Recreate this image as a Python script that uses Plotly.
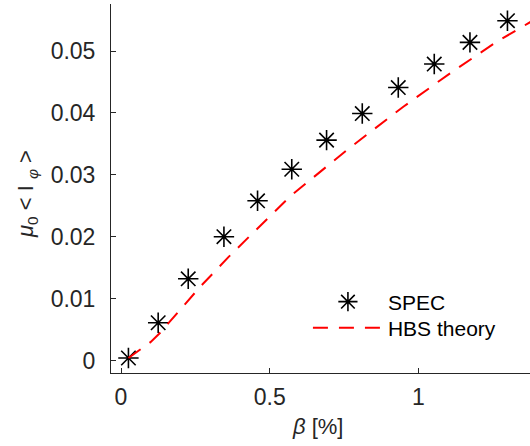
import plotly.graph_objects as go

# SPEC data points (beta [%], mu0 <I_phi>)
spec_beta = [0.025, 0.125, 0.226, 0.346, 0.459, 0.574, 0.691, 0.811, 0.932, 1.053, 1.173, 1.299]
spec_mu = [0.0004, 0.0061, 0.0132, 0.0200, 0.0258, 0.0309, 0.0356, 0.0399, 0.0441, 0.0479, 0.0514, 0.0549]

# HBS theory curve
hbs_beta = [0.025, 0.10, 0.13, 0.266, 0.361, 0.428, 0.568, 0.759, 0.949, 1.106, 1.263, 1.38]
hbs_mu = [0.0004, 0.0030, 0.0044, 0.0119, 0.0167, 0.0199, 0.0265, 0.0340, 0.0410, 0.0464, 0.0515, 0.0548]

x_ticks = [0, 0.5, 1]
x_tick_labels = ["0", "0.5", "1"]
y_ticks = [0, 0.01, 0.02, 0.03, 0.04, 0.05]
y_tick_labels = ["0", "0.01", "0.02", "0.03", "0.04", "0.05"]

x_title = "<i>β</i> [%]"
y_title = "<i>μ</i><sub>0</sub> &lt; I <sub><i>φ</i></sub> &gt;"

AX = "#262626"
FONT = "Liberation Sans, Arial, Helvetica, sans-serif"

fig = go.Figure()
fig.add_trace(go.Scatter(
    x=spec_beta, y=spec_mu, mode="markers", name="SPEC", legend="legend",
    marker=dict(symbol="asterisk-open", size=17, color="black",
                line=dict(width=1.6, color="black")),
))
fig.add_trace(go.Scatter(
    x=hbs_beta, y=hbs_mu, mode="lines", name="HBS theory", legend="legend2",
    line=dict(color="#ff0000", width=2, dash="15px,11px"),
))

axis_common = dict(
    ticks="inside", ticklen=5, tickwidth=1, tickcolor=AX,
    showline=True, linecolor=AX, linewidth=1,
    showgrid=False, zeroline=False,
    tickfont=dict(size=23, color=AX, family=FONT),
)

legend_common = dict(xanchor="left", yanchor="middle",
                     bgcolor="rgba(0,0,0,0)",
                     font=dict(size=21, color="black", family=FONT),
                     itemwidth=70)

fig.update_layout(
    width=530, height=446,
    margin=dict(l=111, r=0, t=4, b=73),
    paper_bgcolor="white", plot_bgcolor="white",
    font=dict(family=FONT, color=AX, size=22),
    xaxis=dict(range=[-0.0336, 1.3748], tickvals=x_ticks, ticktext=x_tick_labels,
               ticklabelstandoff=3, **axis_common),
    yaxis=dict(range=[-0.00202, 0.0576], tickvals=y_ticks, ticktext=y_tick_labels,
               ticklabelstandoff=10, **axis_common),
    legend=dict(x=0.47, y=(373 - 302) / 369, **legend_common),
    legend2=dict(x=0.47, y=(373 - 328) / 369, **legend_common),
    showlegend=True,
    annotations=[
        dict(text=x_title, xref="paper", yref="paper", x=(317 - 111) / 419,
             y=(373 - 427) / 369, xanchor="center", yanchor="middle",
             showarrow=False, font=dict(size=22, color=AX, family=FONT)),
        dict(text=y_title, xref="paper", yref="paper", x=(27 - 111) / 419,
             y=(373 - 194) / 369, xanchor="center", yanchor="middle", textangle=-90,
             showarrow=False, font=dict(size=22, color=AX, family=FONT)),
    ],
)

fig.write_html("out.html")
